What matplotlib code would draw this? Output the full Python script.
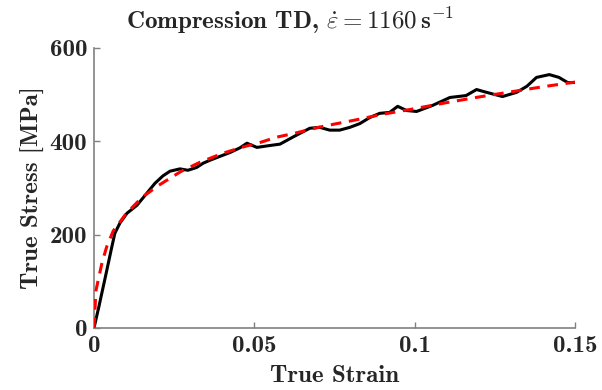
import numpy as np
import matplotlib
matplotlib.use("Agg")
import matplotlib.pyplot as plt

strain = [0, 0.0015, 0.0035, 0.0055, 0.0065, 0.0081, 0.0103, 0.0134, 0.0165, 0.019,
          0.0215, 0.0237, 0.0268, 0.0293, 0.032, 0.034, 0.036, 0.0386, 0.0424, 0.0455,
          0.0477, 0.0508, 0.0548, 0.058, 0.062, 0.0642, 0.0673, 0.0704, 0.0735, 0.0766,
          0.0798, 0.0829, 0.086, 0.0891, 0.0922, 0.0947, 0.0975, 0.1006, 0.1056, 0.111,
          0.116, 0.1193, 0.1224, 0.1274, 0.1318, 0.135, 0.138, 0.142, 0.145, 0.1477, 0.15]
stress = [0, 45, 108, 172, 203, 225, 246, 263, 289, 310,
          326, 336, 341, 338, 344, 353, 359, 366, 376, 386,
          396, 387, 391, 394, 409, 417, 428, 430, 424, 424,
          430, 438, 451, 460, 462, 475, 466, 464, 477, 494,
          498, 511, 505, 496, 505, 518, 537, 543, 537, 526, 526]

# fitted curve (red dashed)
fit_strain = [0, 0.0006, 0.0025, 0.004, 0.006, 0.01, 0.015, 0.02, 0.027, 0.033,
              0.04, 0.046, 0.052, 0.057, 0.063, 0.07, 0.075, 0.081, 0.09, 0.1,
              0.11, 0.12, 0.13, 0.14, 0.15]
fit_stress = [0, 80, 140, 175, 208, 245, 280, 305, 335, 355,
              374, 387, 398, 409, 418, 430, 437, 445, 458, 470,
              483, 495, 506, 517, 527]

xticks = [0, 0.05, 0.1, 0.15]
xtick_labels = ['0', '0.05', '0.1', '0.15']
yticks = [0, 200, 400, 600]
ytick_labels = ['0', '200', '400', '600']

plt.rcParams['mathtext.fontset'] = 'cm'
fnt = 'cmb10'
fs = 18

fig = plt.figure(figsize=(6.02, 3.90), dpi=100)
ax = fig.add_axes([94/602, 1 - 328/390, 481/602, 280/390])

ax.plot(strain, stress, color='black', lw=2.2, zorder=2)
ax.plot(fit_strain, fit_stress, color='red', lw=2.2, ls=(0, (3.5, 2.5)), zorder=3)

ax.set_xlim(0, 0.15)
ax.set_ylim(0, 600)
ax.set_xticks(xticks)
ax.set_xticklabels(xtick_labels, fontfamily=fnt, fontsize=fs, color='#262626')
ax.set_yticks(yticks)
ax.set_yticklabels(ytick_labels, fontfamily=fnt, fontsize=fs, color='#262626')
ax.tick_params(direction='in', length=4, width=1, color='#808080', pad=5)

for s in ['top', 'right']:
    ax.spines[s].set_visible(False)
for s in ['left', 'bottom']:
    ax.spines[s].set_color('#808080')
    ax.spines[s].set_linewidth(1.2)

ax.set_xlabel('True Strain', fontfamily=fnt, fontsize=fs, color='#262626', labelpad=6)
ax.set_ylabel('True Stress [MPa]', fontfamily=fnt, fontsize=fs, color='#262626', labelpad=3)
ax.set_title(r'Compression TD, $\dot{\varepsilon} = \mathbf{1160}\,\mathbf{s}^{-\mathbf{1}}$',
             fontfamily=fnt, fontsize=fs, color='#262626', x=0.407, pad=14)

fig.savefig('out.png', dpi=100)
